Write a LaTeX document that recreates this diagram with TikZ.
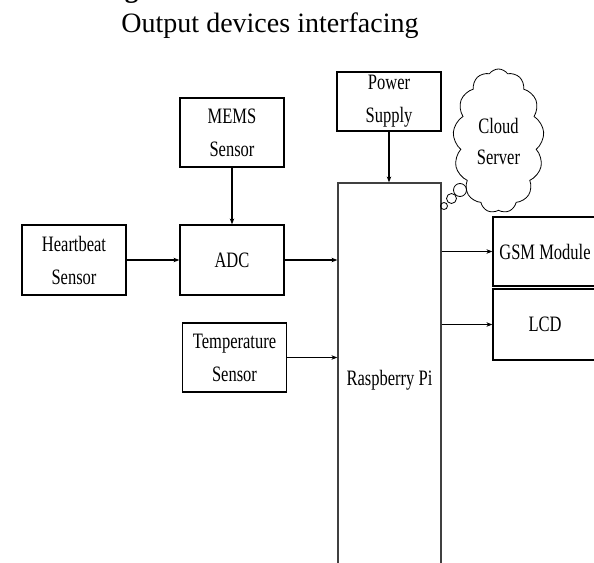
\documentclass[tikz,border=0pt]{standalone}
\usepackage{fontspec}
\setmainfont{Liberation Serif}
\newfontfamily\condfont{Liberation Serif}[FakeStretch=0.75]
\usetikzlibrary{shapes.symbols,arrows.meta}
\begin{document}
\begin{tikzpicture}[x=1pt,y=-1pt,
  blk/.style={draw, line width=1.2pt, inner sep=0pt, minimum width=104pt, minimum height=69pt, align=center, font=\condfont\fontsize{22}{33}\selectfont},
  arr/.style={-{Stealth[length=6pt,width=4.5pt]}, line width=1.1pt},
  bub/.style={circle, draw, line width=0.8pt, inner sep=0pt}]
\clip (0,0) rectangle (594,562);
\node[anchor=base west, font=\bfseries\fontsize{27}{30}\selectfont] (hdr) at (8,-2) {Block Diagram:};
\node[anchor=base, font=\fontsize{28}{32}\selectfont] (title) at (270,32) {Output devices interfacing};

\node[blk] (mems) at (232,132.5) {MEMS\\Sensor};
\node[blk, minimum height=70pt] (hb) at (74,260) {Heartbeat\\Sensor};
\node[blk, minimum height=70pt] (adc) at (232,260) {ADC};
\node[blk] (temp) at (234.5,357.5) {Temperature\\Sensor};
\node[blk, minimum height=59pt] (pwr) at (389,101.5) {Power\\Supply};
\node[blk, draw=black!75, minimum width=103pt, minimum height=394pt] (rpi) at (389.5,380) {Raspberry Pi};
\node[blk] (gsm) at (545,251.5) {GSM Module};
\node[blk, minimum height=71pt] (lcd) at (545,324.5) {LCD};
\node[cloud, draw, line width=0.8pt, cloud puffs=13, cloud puff arc=110, aspect=0.63,
      minimum width=91pt, minimum height=144pt, inner sep=0pt, align=center,
      font=\condfont\fontsize{22}{31}\selectfont] (cloud) at (498.5,141) {Cloud\\Server};
\node[bub, minimum size=7pt] (b1) at (444,206) {};
\node[bub, minimum size=10pt] (b2) at (451.5,198.5) {};
\node[bub, minimum size=13pt] (b3) at (460,190) {};

\draw[arr] (mems) -- (adc);
\draw[arr] (hb) -- (adc);
\draw[arr] (adc.east) -- (adc.east -| rpi.west);
\draw[arr] (temp.east) -- (temp.east -| rpi.west);
\draw[arr] (pwr.south) -- (pwr.south |- rpi.north);
\draw[arr] (gsm.west -| rpi.east) -- (gsm.west);
\draw[arr] (lcd.west -| rpi.east) -- (lcd.west);
\end{tikzpicture}
\end{document}
